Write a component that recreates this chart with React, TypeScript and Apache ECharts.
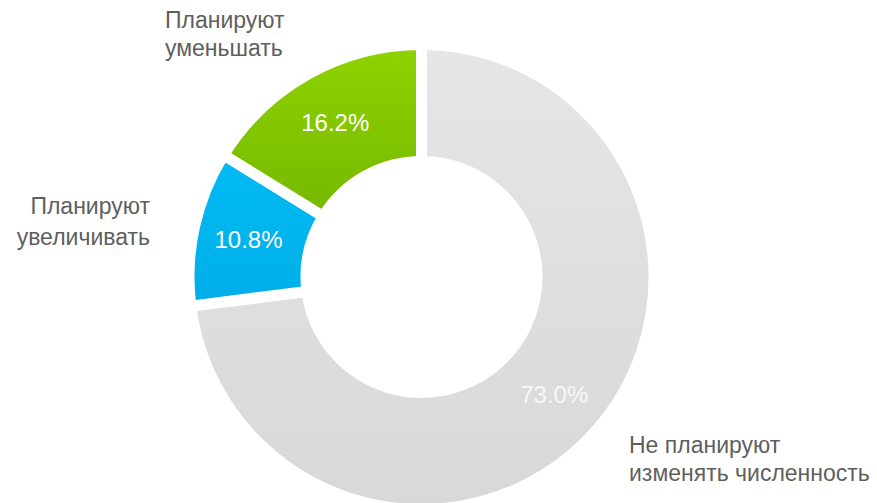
import React, { useEffect, useRef } from "react";
import * as echarts from "echarts";

const categories = [
  "Не планируют\nизменять численность",
  "Планируют\nувеличивать",
  "Планируют\nуменьшать",
];
const values = [73.0, 10.8, 16.2];
const topColors = ["#e6e6e6", "#00bbf4", "#8fd300"];
const bottomColors = ["#d8d8d8", "#00aee9", "#76b800"];

export default function App() {
  const ref = useRef<HTMLDivElement>(null);
  useEffect(() => {
    document.body.style.margin = "0";
    const chart = echarts.init(ref.current!, null, { renderer: "svg" });
    const textStyle = {
      fill: "#5f5f5f",
      font: '23px "Liberation Sans", Arial, sans-serif',
      lineHeight: 28,
      verticalAlign: "top",
    };
    chart.setOption({
      animation: false,
      backgroundColor: "#ffffff",
      series: [
        {
          type: "pie",
          center: [421.5, 277],
          radius: [115.5, 232.5],
          startAngle: 90,
          clockwise: true,
          avoidLabelOverlap: false,
          emphasis: { disabled: true },
          itemStyle: { borderColor: "#ffffff", borderWidth: 11 },
          label: {
            show: true,
            position: "inside",
            color: "#ffffff",
            fontSize: 24,
            fontFamily: '"Liberation Sans", Arial, sans-serif',
            formatter: (p: any) => p.value.toFixed(1) + "%",
          },
          labelLine: { show: false },
          data: categories.map((name, i) => ({
            name,
            value: values[i],
            itemStyle: {
              color: new echarts.graphic.LinearGradient(0, 0, 0, 1, [
                { offset: 0, color: topColors[i] },
                { offset: 1, color: bottomColors[i] },
              ]),
            },
            label: i === 0 ? { color: "#f7f7f7" } : undefined,
          })),
        },
      ],
      graphic: [
        {
          type: "text",
          x: 165,
          y: 6,
          style: { ...textStyle, text: categories[2], align: "left" },
        },
        {
          type: "text",
          x: 150,
          y: 190,
          style: { ...textStyle, text: categories[1], align: "right", lineHeight: 31 },
        },
        {
          type: "text",
          x: 629,
          y: 431,
          style: { ...textStyle, text: categories[0], align: "left" },
        },
      ],
    });
    return () => chart.dispose();
  }, []);
  return (
    <div
      ref={ref}
      style={{ position: "absolute", left: 0, top: 0, width: 877, height: 503 }}
    />
  );
}
